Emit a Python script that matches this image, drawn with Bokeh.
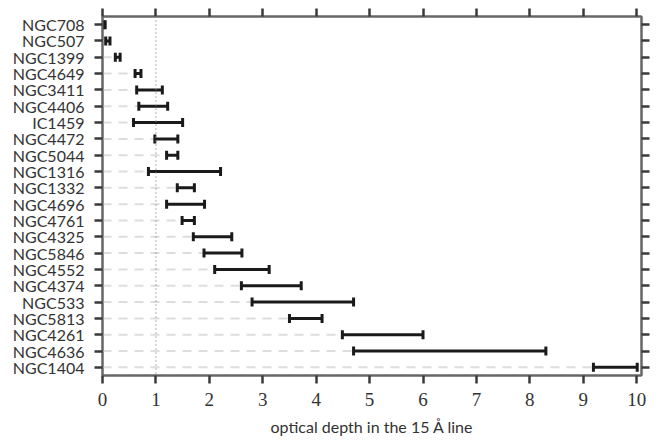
import numpy as np
from bokeh.plotting import figure
from bokeh.models import ColumnDataSource, Range1d, FixedTicker, LinearAxis, Span
from bokeh.embed import file_html
from bokeh.resources import INLINE

galaxies = ["NGC708", "NGC507", "NGC1399", "NGC4649", "NGC3411", "NGC4406", "IC1459",
            "NGC4472", "NGC5044", "NGC1316", "NGC1332", "NGC4696", "NGC4761", "NGC4325",
            "NGC5846", "NGC4552", "NGC4374", "NGC533", "NGC5813", "NGC4261", "NGC4636",
            "NGC1404"]
lower = [0.02, 0.06, 0.24, 0.61, 0.64, 0.68, 0.58, 0.98, 1.20, 0.86, 1.40, 1.20, 1.49,
         1.70, 1.90, 2.10, 2.60, 2.80, 3.50, 4.49, 4.70, 9.19]
upper = [0.05, 0.14, 0.33, 0.72, 1.12, 1.22, 1.50, 1.41, 1.41, 2.21, 1.72, 1.91, 1.72,
         2.42, 2.61, 3.12, 3.72, 4.70, 4.11, 6.00, 8.30, 10.01]
x_ticks = [0, 1, 2, 3, 4, 5, 6, 7, 8, 9, 10]
ref_depth = 1.0

idx = list(range(len(galaxies)))
src = ColumnDataSource(dict(y=idx, lo=lower, hi=upper, zero=[0] * len(idx)))

p = figure(width=670, height=443, output_backend="svg", toolbar_location=None,
           x_range=Range1d(0, 10.09), y_range=Range1d(len(idx) - 0.5, -0.5),
           min_border_left=102, min_border_right=29, min_border_top=16, min_border_bottom=68)
p.xgrid.visible = False
p.ygrid.visible = False
p.outline_line_color = "#666666"
p.outline_line_width = 2

p.segment(x0="zero", y0="y", x1="lo", y1="y", source=src, line_color="#dddddd",
          line_width=2, line_dash="9 7")
p.add_layout(Span(location=ref_depth, dimension="height", line_color="#999999",
                  line_width=1.5, line_dash="1 3"))
p.segment(x0="lo", y0="y", x1="hi", y1="y", source=src, line_color="#1a1a1a", line_width=3)
p.scatter(x="lo", y="y", source=src, marker="dash", angle=np.pi / 2, size=9,
          line_color="#1a1a1a", line_width=3)
p.scatter(x="hi", y="y", source=src, marker="dash", angle=np.pi / 2, size=9,
          line_color="#1a1a1a", line_width=3)

tick_style = dict(major_tick_out=8, major_tick_in=0, major_tick_line_color="#3a3a3a",
                  major_tick_line_width=2.5, minor_tick_line_color=None,
                  axis_line_color="#666666", axis_line_width=2)

xa = p.xaxis[0]
xa.ticker = FixedTicker(ticks=x_ticks)
for k, v in tick_style.items():
    setattr(xa, k, v)
xa.major_label_text_font = "Liberation Serif"
xa.major_label_text_font_size = "19px"
xa.major_label_text_color = "#333333"
xa.major_label_standoff = 9
xa.axis_label = "optical depth in the 15 Å line"
xa.axis_label_text_font = "Lato"
xa.axis_label_text_font_style = "normal"
xa.axis_label_text_font_size = "16px"
xa.axis_label_text_color = "#333333"
xa.axis_label_standoff = 8

ya = p.yaxis[0]
ya.ticker = FixedTicker(ticks=idx)
ya.major_label_overrides = {i: g for i, g in zip(idx, galaxies)}
for k, v in tick_style.items():
    setattr(ya, k, v)
ya.major_label_text_font = "Lato"
ya.major_label_text_font_size = "16px"
ya.major_label_text_color = "#333333"
ya.major_label_standoff = 10

top = LinearAxis(ticker=FixedTicker(ticks=x_ticks), major_label_text_font_size="1px",
                 major_label_text_color=None, major_label_standoff=0, **tick_style)
p.add_layout(top, "above")

right = LinearAxis(ticker=FixedTicker(ticks=idx), major_label_text_font_size="1px",
                   major_label_text_color=None, major_label_standoff=0, **tick_style)
p.add_layout(right, "right")

open("out.html", "w").write(file_html(p, INLINE))
